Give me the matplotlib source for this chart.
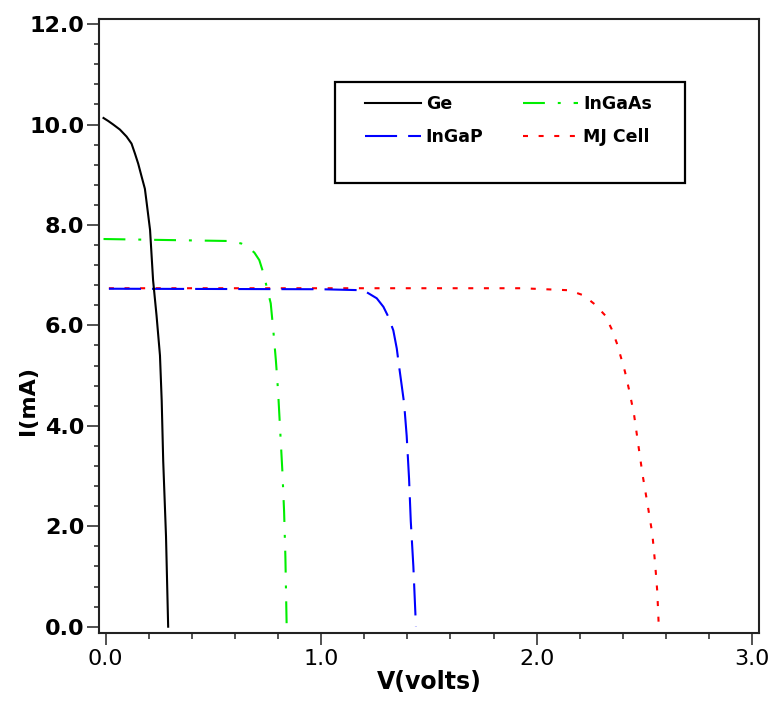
import numpy as np
import matplotlib.pyplot as plt
from matplotlib.ticker import MultipleLocator, FormatStrFormatter
from matplotlib.patches import Rectangle

# --- I-V curves of the sub-cells and the multi-junction cell ---
v_ge = [-0.01, 0.012, 0.035, 0.066, 0.097, 0.12, 0.136, 0.151, 0.167, 0.182, 0.19,
        0.206, 0.22, 0.236, 0.252, 0.26, 0.267, 0.28, 0.29]
i_ge = [10.13, 10.07, 10.0, 9.9, 9.76, 9.62, 9.42, 9.22, 8.96, 8.72, 8.45,
        7.9, 6.9, 6.2, 5.4, 4.5, 3.3, 1.8, 0.0]

v_ingaas = [-0.01, 0.58, 0.63, 0.662, 0.69, 0.713, 0.735, 0.747, 0.766, 0.778,
            0.79, 0.80, 0.81, 0.82, 0.828, 0.834, 0.84]
i_ingaas = [7.72, 7.68, 7.63, 7.55, 7.45, 7.3, 7.0, 6.77, 6.44, 5.9,
            5.3, 4.7, 3.9, 3.1, 2.3, 1.4, 0.0]

v_ingap = [0.015, 1.0, 1.196, 1.258, 1.289, 1.312, 1.335, 1.351, 1.36, 1.374,
           1.385, 1.397, 1.408, 1.416, 1.428, 1.44]
i_ingap = [6.73, 6.72, 6.70, 6.54, 6.37, 6.17, 5.9, 5.54, 5.24, 4.8,
           4.45, 3.8, 2.95, 2.1, 1.2, 0.0]

v_mj = [0.015, 1.93, 2.15, 2.217, 2.27, 2.318, 2.349, 2.372, 2.391, 2.41,
        2.43, 2.452, 2.472, 2.492, 2.514, 2.537, 2.55, 2.56, 2.567]
i_mj = [6.74, 6.74, 6.70, 6.60, 6.42, 6.2, 5.92, 5.65, 5.37, 5.08,
        4.7, 4.23, 3.62, 3.02, 2.46, 1.85, 1.26, 0.7, 0.0]

fig = plt.figure(figsize=(7.71, 7.04), dpi=100)
ax = fig.add_axes([0.1284, 0.1009, 0.856, 0.872])

lw = 1.5
ax.plot(v_mj, i_mj, color="red", lw=lw, linestyle=(0, (2.4, 5.1)), label="MJ Cell", zorder=2)
ax.plot(v_ingap, i_ingap, color="blue", lw=lw, linestyle=(0, (15.4, 5.3)), label="InGaP", zorder=3)
ax.plot(v_ingaas, i_ingaas, color="#00ee00", lw=lw,
        linestyle=(0, (10.5, 6.2, 1.4, 6.2)), label="InGaAs", zorder=4)
ax.plot(v_ge, i_ge, color="black", lw=lw, label="Ge", zorder=5)

ax.set_xlim(-0.031, 3.032)
ax.set_ylim(-0.125, 12.1)

ax.xaxis.set_major_locator(MultipleLocator(1.0))
ax.xaxis.set_minor_locator(MultipleLocator(0.2))
ax.yaxis.set_major_locator(MultipleLocator(2.0))
ax.yaxis.set_minor_locator(MultipleLocator(0.4))
ax.xaxis.set_major_formatter(FormatStrFormatter("%.1f"))
ax.yaxis.set_major_formatter(FormatStrFormatter("%.1f"))

ax.tick_params(which="major", direction="out", length=8.5, width=1.1, color="#222222")
ax.tick_params(which="minor", direction="out", length=3.8, width=1.1, color="#222222")
ax.tick_params(axis="x", which="minor", length=4.5)
ax.tick_params(axis="x", labelsize=16, pad=3)
ax.tick_params(axis="y", labelsize=16, pad=2)
for lab in ax.get_yticklabels():
    lab.set_fontweight("bold")

for sp in ax.spines.values():
    sp.set_linewidth(1.5)
    sp.set_color("#222222")

ax.set_xlabel("V(volts)", fontsize=17, fontweight="bold", labelpad=1)
ax.set_ylabel("I(mA)", fontsize=16, fontweight="bold")
ax.yaxis.set_label_coords(-0.092, 0.379)

# legend box with spare room under the entries
ax.add_patch(Rectangle((0.358, 0.733), 0.530, 0.164, transform=ax.transAxes,
                       fill=False, edgecolor="black", lw=1.6, zorder=6))
handles, labels = ax.get_legend_handles_labels()
order = [3, 1, 2, 0]  # Ge, InGaP, InGaAs, MJ Cell
ax.legend([handles[k] for k in order], [labels[k] for k in order],
          ncol=2, frameon=False, loc="upper left", bbox_to_anchor=(0.403, 0.876),
          prop={"weight": "bold", "size": 12.5}, handlelength=3.2,
          handletextpad=0.3, columnspacing=2.25, labelspacing=0.85,
          borderaxespad=0, borderpad=0)

plt.savefig("out.png", dpi=100)
